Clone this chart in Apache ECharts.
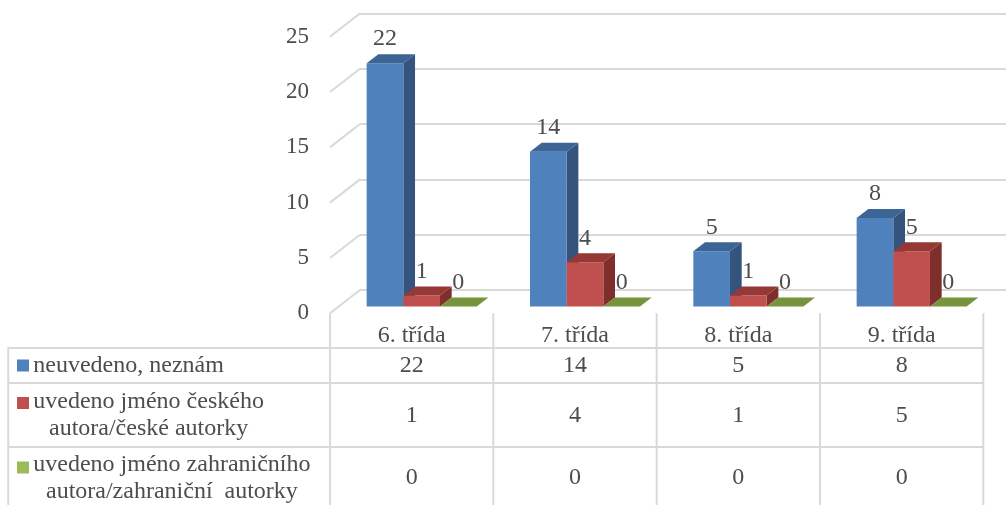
<!DOCTYPE html>
<html>
<head>
<meta charset="utf-8">
<script src="https://cdn.jsdelivr.net/npm/echarts@6/dist/echarts.min.js"></script>
<style>
  html, body { margin: 0; padding: 0; background: #fff; }
  #chart { width: 1006px; height: 505px; }
</style>
</head>
<body>
<div id="chart"></div>
<script>
// Grades (columns of the data table)
const categories = ['6. třída', '7. třída', '8. třída', '9. třída'];

// Series names (rows of the data table)
const seriesNames = [
  'neuvedeno, neznám',
  'uvedeno jméno českého\nautora/české autorky',
  'uvedeno jméno zahraničního\nautora/zahraniční  autorky'
];

// Counts per grade
const valuesUnknown = [22, 14, 5, 8];
const valuesCzech   = [1, 4, 1, 5];
const valuesForeign = [0, 0, 0, 0];

// Value axis ticks
const yTicks = [0, 5, 10, 15, 20, 25];

const seriesValues = [valuesUnknown, valuesCzech, valuesForeign];

// Face colours for each series: front, top, side
const palette = [
  { front: '#4F81BD', top: '#3C6495', side: '#34547E', key: '#4F81BD' },
  { front: '#C0504D', top: '#953836', side: '#7E2F2D', key: '#C0504D' },
  { front: '#9BBB59', top: '#77933C', side: '#647D32', key: '#9BBB59' }
];

const FONT = '"Liberation Serif", "Times New Roman", serif';
const TEXT_COLOR = '#4d4d4d';
const GRID_COLOR = '#D9D9D9';

// Perspective offsets of the 3D frame
const WALL_DX = 30, WALL_DY = -23.3;   // front plane -> back wall
const BAR_DX = 11.7, BAR_DY = -9;      // bar depth
const BAR_LIFT = 6.7;                  // bars stand slightly behind the front plane
const BAR_FRAC = 0.2245;               // bar width as a share of a category band

// Table rows (vertical layout)
const TABLE_BOTTOM = 512;
const ROW_LINES = [348, 383, 447];
const HEADER_Y = 335.5;
const ROW_CENTERS = [365.5, 415.5, 478];

const chart = echarts.init(document.getElementById('chart'), null, { renderer: 'canvas' });

function measure(text, size) {
  const ctx = document.createElement('canvas').getContext('2d');
  ctx.font = size + 'px ' + FONT;
  return Math.max.apply(null, text.split('\n').map(t => ctx.measureText(t).width));
}

function barSeries(s) {
  return {
    type: 'custom',
    name: seriesNames[s],
    xAxisIndex: 0,
    yAxisIndex: 0,
    z: 10 + s,
    data: seriesValues[s].map((v, i) => [i, v]),
    encode: { x: 0, y: 1 },
    renderItem: function (params, api) {
      const i = api.value(0), v = api.value(1);
      const top = api.coord([i, v]);
      const base = api.coord([i, 0]);
      const band = api.size([1, 0])[0];
      const w = band * BAR_FRAC;
      const x0 = base[0] - band / 2 + w * (1 + s);
      const yb = base[1] - BAR_LIFT;
      const yt = top[1] - BAR_LIFT;
      const c = palette[s];
      const children = [];
      if (yb - yt > 0.5) {
        children.push({
          type: 'polygon',
          shape: { points: [[x0 + w, yt], [x0 + w, yb], [x0 + w + BAR_DX, yb + BAR_DY], [x0 + w + BAR_DX, yt + BAR_DY]] },
          style: { fill: c.side }
        });
        children.push({
          type: 'rect',
          shape: { x: x0, y: yt, width: w, height: yb - yt },
          style: { fill: c.front }
        });
      }
      children.push({
        type: 'polygon',
        shape: { points: [[x0, yt], [x0 + w, yt], [x0 + w + BAR_DX, yt + BAR_DY], [x0 + BAR_DX, yt + BAR_DY]] },
        style: { fill: c.top }
      });
      children.push({
        type: 'text',
        style: {
          x: x0 + w / 2, y: yt - 24,
          text: String(v),
          align: 'center', verticalAlign: 'middle',
          font: '24px ' + FONT, fill: TEXT_COLOR
        },
        z2: 50
      });
      return { type: 'group', children: children };
    }
  };
}

// Diagonal edges of the side wall, one per tick
const frameSeries = {
  type: 'custom',
  xAxisIndex: 0,
  yAxisIndex: 0,
  z: 2,
  silent: true,
  data: yTicks.map(v => [0, v]),
  encode: { x: 0, y: 1 },
  renderItem: function (params, api) {
    const p = api.coord([0, api.value(1)]);
    const x = params.coordSys.x;
    return {
      type: 'line',
      shape: { x1: x, y1: p[1], x2: x + WALL_DX, y2: p[1] + WALL_DY },
      style: { stroke: GRID_COLOR, lineWidth: 2 }
    };
  }
};

// Data table columns: header, values and cell borders per grade
const tableSeries = {
  type: 'custom',
  xAxisIndex: 0,
  yAxisIndex: 0,
  z: 3,
  silent: true,
  clip: false,
  data: categories.map((c, i) => [i, 0]),
  encode: { x: 0, y: 1 },
  renderItem: function (params, api) {
    const i = api.value(0);
    const base = api.coord([i, 0]);
    const band = api.size([1, 0])[0];
    const xl = base[0] - band / 2, xr = base[0] + band / 2;
    const line = (x1, y1, x2, y2) => ({
      type: 'line', shape: { x1, y1, x2, y2 },
      style: { stroke: GRID_COLOR, lineWidth: 2 }
    });
    const text = (t, y) => ({
      type: 'text',
      style: { x: base[0], y: y, text: t, align: 'center', verticalAlign: 'middle', font: '24px ' + FONT, fill: TEXT_COLOR }
    });
    const children = [line(xl, base[1], xl, TABLE_BOTTOM)];
    if (i === categories.length - 1) children.push(line(xr, base[1], xr, TABLE_BOTTOM));
    ROW_LINES.forEach(y => children.push(line(xl, y, xr, y)));
    children.push(text(categories[i], HEADER_Y));
    seriesValues.forEach((vals, s) => children.push(text(String(vals[i]), ROW_CENTERS[s])));
    return { type: 'group', children: children };
  }
};

// Legend column of the data table
const legendLeft = 8.3, legendRight = 330, keyX = 17, keySize = 12, textLeft = 33.3;
const keyTops = [359.5, 397, 461.5];
const rowGraphics = [];
rowGraphics.push({ type: 'line', shape: { x1: legendLeft, y1: ROW_LINES[0] - 1, x2: legendLeft, y2: TABLE_BOTTOM }, style: { stroke: GRID_COLOR, lineWidth: 2 } });
ROW_LINES.forEach(y => rowGraphics.push({ type: 'line', shape: { x1: legendLeft, y1: y, x2: legendRight, y2: y }, style: { stroke: GRID_COLOR, lineWidth: 2 } }));
seriesNames.forEach((name, s) => {
  rowGraphics.push({ type: 'rect', shape: { x: keyX, y: keyTops[s], width: keySize, height: keySize }, style: { fill: palette[s].key } });
  const w = measure(name, 24);
  rowGraphics.push({
    type: 'text',
    style: {
      x: textLeft + w / 2, y: ROW_CENTERS[s], text: name,
      align: 'center', verticalAlign: 'middle', lineHeight: 27,
      font: '24px ' + FONT, fill: TEXT_COLOR
    }
  });
});

const option = {
  animation: false,
  backgroundColor: '#ffffff',
  grid: [
    // front plane of the plot
    { left: 330, right: 22.7, top: 36.7, bottom: 505 - 313.3 },
    // back wall carrying the gridlines
    { left: 360, right: 0, top: 13.4, bottom: 505 - 290 }
  ],
  xAxis: [
    { type: 'category', gridIndex: 0, data: categories, show: false, boundaryGap: true },
    { type: 'value', gridIndex: 1, min: 0, max: 1, show: false }
  ],
  yAxis: [
    {
      type: 'value', gridIndex: 0, min: 0, max: 25, interval: 5,
      axisLine: { show: false }, axisTick: { show: false }, splitLine: { show: false },
      axisLabel: { margin: 21, fontFamily: FONT, fontSize: 23, color: TEXT_COLOR }
    },
    {
      type: 'value', gridIndex: 1, min: 0, max: 25, interval: 5,
      axisLine: { show: false }, axisTick: { show: false }, axisLabel: { show: false },
      splitLine: { show: true, lineStyle: { color: GRID_COLOR, width: 2 } }
    }
  ],
  graphic: rowGraphics,
  series: [frameSeries, tableSeries, barSeries(0), barSeries(1), barSeries(2)]
};

chart.setOption(option);
</script>
</body>
</html>
